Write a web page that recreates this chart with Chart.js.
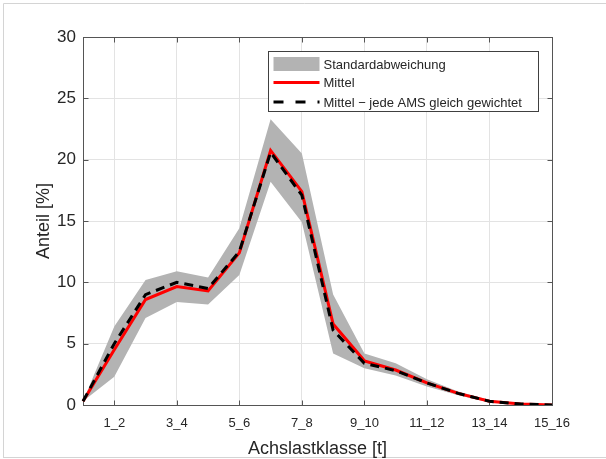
<!DOCTYPE html>
<html>
<head>
<meta charset="utf-8">
<script src="https://cdn.jsdelivr.net/npm/chart.js@4/dist/chart.umd.min.js"></script>
<style>
  html, body { margin: 0; padding: 0; background: #fff; }
  #wrap { width: 606px; height: 459px; }
</style>
</head>
<body>
<div id="wrap"><canvas id="aChart" width="606" height="459"></canvas></div>
<script>
// Achslastklassen 0_1 .. 15_16
const klassen = ['0_1', '1_2', '2_3', '3_4', '4_5', '5_6', '6_7', '7_8',
                 '8_9', '9_10', '10_11', '11_12', '12_13', '13_14', '14_15', '15_16'];
const mittel = [0.3, 4.5, 8.6, 9.65, 9.3, 12.4, 20.75, 17.4, 6.6, 3.6, 2.85, 1.8, 0.95, 0.3, 0.08, 0.0];
const mittelGleich = [0.3, 5.0, 9.0, 10.0, 9.5, 12.5, 20.6, 17.1, 6.1, 3.4, 2.8, 1.8, 0.95, 0.3, 0.08, 0.0];
const stdOben = [0.3, 6.4, 10.2, 10.9, 10.4, 14.4, 23.3, 20.5, 9.0, 4.2, 3.4, 2.1, 1.1, 0.4, 0.12, 0.02];
const stdUnten = [0.3, 2.3, 7.1, 8.4, 8.2, 10.6, 18.2, 14.9, 4.2, 3.0, 2.4, 1.5, 0.8, 0.2, 0.04, 0.0];
const yTicks = [0, 5, 10, 15, 20, 25, 30];

const FONT = "'Liberation Sans', Arial, Helvetica, sans-serif";
const TXT = '#262626';

// figure border + axes box with inward ticks (MATLAB look)
const axisBox = {
    id: 'axisBox',
    beforeDraw(chart) {
        const ctx = chart.ctx;
        ctx.save();
        ctx.strokeStyle = '#d4d4d4';
        ctx.lineWidth = 1;
        ctx.beginPath();
        ctx.moveTo(3.5, 458);
        ctx.lineTo(3.5, 3.5);
        ctx.lineTo(606, 3.5);
        ctx.moveTo(3.5, 457.5);
        ctx.lineTo(606, 457.5);
        ctx.stroke();
        ctx.restore();
    },
    beforeDatasetsDraw(chart) {
        const {ctx, chartArea: a, scales: {x, y}} = chart;
        const l = Math.round(a.left) + 0.5, r = Math.round(a.right) + 0.5;
        const t = Math.round(a.top) + 0.5, b = Math.round(a.bottom) + 0.5;
        ctx.save();
        ctx.strokeStyle = '#555';
        ctx.lineWidth = 1;
        ctx.strokeRect(l, t, r - l, b - t);
        ctx.beginPath();
        x.ticks.forEach((tk, i) => {
            if (i % 2 !== 1) return;
            const px = Math.round(x.getPixelForTick(i)) + 0.5;
            ctx.moveTo(px, b); ctx.lineTo(px, b - 5);
            ctx.moveTo(px, t); ctx.lineTo(px, t + 5);
        });
        y.ticks.forEach((tk, i) => {
            const py = Math.round(y.getPixelForTick(i)) + 0.5;
            ctx.moveTo(l, py); ctx.lineTo(l + 5, py);
            ctx.moveTo(r, py); ctx.lineTo(r - 5, py);
        });
        ctx.stroke();
        ctx.restore();
    }
};

// legend box inside the axes, top right
const innerLegend = {
    id: 'innerLegend',
    afterDraw(chart) {
        const {ctx, chartArea: a} = chart;
        const ds = chart.data.datasets;
        const items = [ds[2], ds[1], ds[0]];
        const bx = a.left + 185.5, by = a.top + 14.5, bw = 270, bh = 60;
        ctx.save();
        ctx.fillStyle = '#fff';
        ctx.fillRect(bx, by, bw, bh);
        ctx.strokeStyle = '#404040';
        ctx.lineWidth = 1;
        ctx.strokeRect(bx, by, bw, bh);
        ctx.font = '13px ' + FONT;
        ctx.textBaseline = 'middle';
        ctx.fillStyle = TXT;
        const rows = [by + 12.5, by + 31, by + 50.5];
        items.forEach((d, i) => {
            const cy = rows[i];
            if (d.fill) {
                ctx.fillStyle = d.backgroundColor;
                ctx.fillRect(bx + 5, cy - 7, 46, 14);
            } else {
                ctx.strokeStyle = d.borderColor;
                ctx.lineWidth = 3;
                ctx.setLineDash(d.borderDash ? [10, 12] : []);
                ctx.beginPath();
                ctx.moveTo(bx + 5, cy);
                ctx.lineTo(bx + 51, cy);
                ctx.stroke();
                ctx.setLineDash([]);
            }
            ctx.fillStyle = TXT;
            ctx.fillText(d.label, bx + 55, cy + 1);
        });
        ctx.restore();
    }
};

new Chart(document.getElementById('aChart'), {
    type: 'line',
    data: {
        labels: klassen,
        datasets: [
            {
                label: 'Mittel \u2212 jede AMS gleich gewichtet',
                data: mittelGleich,
                borderColor: '#000000',
                borderWidth: 3,
                borderDash: [9, 6],
                pointRadius: 0,
                fill: false,
                tension: 0
            },
            {
                label: 'Mittel',
                data: mittel,
                borderColor: '#ff0000',
                borderWidth: 3,
                pointRadius: 0,
                fill: false,
                tension: 0
            },
            {
                label: 'Standardabweichung',
                data: stdOben,
                borderWidth: 0,
                borderColor: 'rgba(0,0,0,0)',
                backgroundColor: '#b3b3b3',
                pointRadius: 0,
                fill: '+1',
                tension: 0
            },
            {
                label: '',
                data: stdUnten,
                borderWidth: 0,
                borderColor: 'rgba(0,0,0,0)',
                pointRadius: 0,
                fill: false,
                tension: 0
            }
        ]
    },
    options: {
        responsive: false,
        animation: false,
        layout: { padding: { top: 37, right: 54, left: 0, bottom: 0 } },
        plugins: {
            legend: { display: false },
            title: { display: false },
            tooltip: { enabled: false }
        },
        scales: {
            x: {
                offset: false,
                border: { display: false },
                grid: {
                    drawTicks: false,
                    color: (c) => (c.index % 2 === 1 ? '#e3e3e3' : 'rgba(0,0,0,0)')
                },
                ticks: {
                    autoSkip: false,
                    maxRotation: 0,
                    padding: 11,
                    color: TXT,
                    font: { family: FONT, size: 13 },
                    callback: function (val, i) { return i % 2 === 1 ? klassen[i] : ''; }
                },
                title: {
                    display: true,
                    text: 'Achslastklasse [t]',
                    color: TXT,
                    font: { family: FONT, size: 18, lineHeight: 1 },
                    padding: { top: 0, bottom: 1 }
                },
                afterFit: (s) => { s.height = 54; }
            },
            y: {
                min: 0,
                max: 30,
                border: { display: false },
                grid: { drawTicks: false, color: '#e3e3e3' },
                afterBuildTicks: (s) => { s.ticks = yTicks.map(v => ({ value: v })); },
                ticks: {
                    padding: 7,
                    color: TXT,
                    font: { family: FONT, size: 17 }
                },
                title: {
                    display: true,
                    text: 'Anteil [%]',
                    color: TXT,
                    font: { family: FONT, size: 18, lineHeight: 1 },
                    padding: { top: 35, bottom: 0 }
                },
                afterFit: (s) => { s.width = 83; }
            }
        }
    },
    plugins: [axisBox, innerLegend]
});
</script>
</body>
</html>
